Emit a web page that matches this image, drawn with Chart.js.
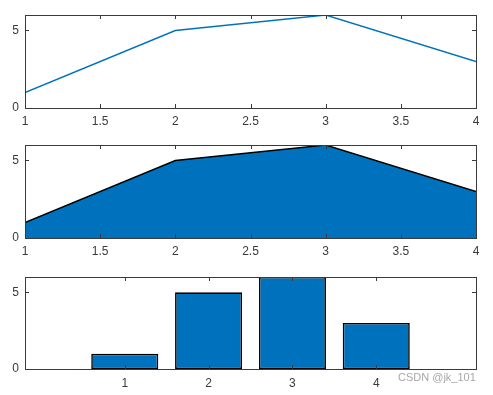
<!DOCTYPE html>
<html>
<head>
<meta charset="utf-8">
<script src="https://cdn.jsdelivr.net/npm/chart.js@4/dist/chart.umd.min.js"></script>
<style>
  html, body { margin:0; padding:0; background:#fff; }
  body { width:493px; height:395px; position:relative; overflow:hidden; }
  .box { position:absolute; left:0; width:493px; }
  #wm { position:absolute; left:398px; top:371px; font:11px "Liberation Sans", Arial, sans-serif; color:#a8a8a8; white-space:nowrap; }
</style>
</head>
<body>
<div class="box" style="top:0;height:130px"><canvas id="c1"></canvas></div>
<div class="box" style="top:130px;height:130px"><canvas id="c2"></canvas></div>
<div class="box" style="top:262px;height:133px"><canvas id="c3"></canvas></div>
<div id="wm">CSDN @jk_101</div>
<script>
// ---- data ----
const xValues = [1, 2, 3, 4];
const yValues = [1, 5, 6, 3];
const xTicksLine = [1, 1.5, 2, 2.5, 3, 3.5, 4];
const xTicksBar = [1, 2, 3, 4];
const yTicks = [0, 5];
const barXRange = [-0.19, 5.19];
const yRange = [0, 6];

const BLUE = '#0072BD';
const AXC = '#3a3a3a';
const FONT = { family: '"Liberation Sans", Arial, Helvetica, sans-serif', size: 12 };

const points = xValues.map((x, i) => ({ x: x, y: yValues[i] }));

const matlabAxes = {
  id: 'matlabAxes',
  afterDatasetsDraw(chart) {
    const { ctx, chartArea: a, scales } = chart;
    const L = 4;
    ctx.save();
    ctx.strokeStyle = AXC;
    ctx.lineWidth = 1;
    ctx.beginPath();
    scales.x.ticks.forEach(t => {
      const px = Math.round(scales.x.getPixelForValue(t.value)) + 0.5;
      if (px <= a.left + 1 || px >= a.right - 1) return;
      ctx.moveTo(px, a.bottom); ctx.lineTo(px, a.bottom - L);
      ctx.moveTo(px, a.top); ctx.lineTo(px, a.top + L);
    });
    scales.y.ticks.forEach(t => {
      const py = Math.round(scales.y.getPixelForValue(t.value)) + 0.5;
      if (py <= a.top + 1 || py >= a.bottom - 1) return;
      ctx.moveTo(a.left, py); ctx.lineTo(a.left + L, py);
      ctx.moveTo(a.right, py); ctx.lineTo(a.right - L, py);
    });
    ctx.stroke();
    ctx.strokeRect(Math.round(a.left) + 0.5, Math.round(a.top) + 0.5,
                   Math.round(a.right - a.left), Math.round(a.bottom - a.top));
    ctx.restore();
  }
};

function makeOptions(xMin, xMax, xTickList, xAxisHeight, xPad) {
  return {
    responsive: true,
    maintainAspectRatio: false,
    animation: false,
    layout: { padding: { left: 0, right: 17, top: 15, bottom: 0 } },
    plugins: { legend: { display: false }, tooltip: { enabled: false } },
    scales: {
      x: {
        type: 'linear', min: xMin, max: xMax, offset: false,
        afterBuildTicks: s => { s.ticks = xTickList.map(v => ({ value: v })); },
        afterFit: s => { s.height = xAxisHeight; },
        grid: { display: false, drawTicks: false, offset: false },
        border: { display: false },
        ticks: { color: AXC, font: FONT, padding: xPad, maxRotation: 0, autoSkip: false,
                 callback: v => String(v) }
      },
      y: {
        min: yRange[0], max: yRange[1],
        afterBuildTicks: s => { s.ticks = yTicks.map(v => ({ value: v })); },
        afterFit: s => { s.width = 25; },
        grid: { display: false, drawTicks: false },
        border: { display: false },
        ticks: { color: AXC, font: FONT, padding: 6, callback: v => String(v) }
      }
    }
  };
}

new Chart(document.getElementById('c1'), {
  type: 'line',
  data: { datasets: [{ data: points, borderColor: BLUE, borderWidth: 1.4,
                       pointRadius: 0, fill: false, tension: 0 }] },
  options: makeOptions(xValues[0], xValues[xValues.length - 1], xTicksLine, 22, 6),
  plugins: [matlabAxes]
});

new Chart(document.getElementById('c2'), {
  type: 'line',
  data: { datasets: [{ data: points, borderColor: '#000', borderWidth: 1.4,
                       backgroundColor: BLUE, pointRadius: 0, fill: 'origin', tension: 0 }] },
  options: makeOptions(xValues[0], xValues[xValues.length - 1], xTicksLine, 22, 6),
  plugins: [matlabAxes]
});

new Chart(document.getElementById('c3'), {
  type: 'bar',
  data: { datasets: [{ data: points, backgroundColor: BLUE, borderColor: '#000',
                       borderWidth: 1.6, borderSkipped: false,
                       barPercentage: 0.8, categoryPercentage: 1.0 }] },
  options: makeOptions(barXRange[0], barXRange[1], xTicksBar, 26, 7),
  plugins: [matlabAxes]
});
</script>
</body>
</html>
